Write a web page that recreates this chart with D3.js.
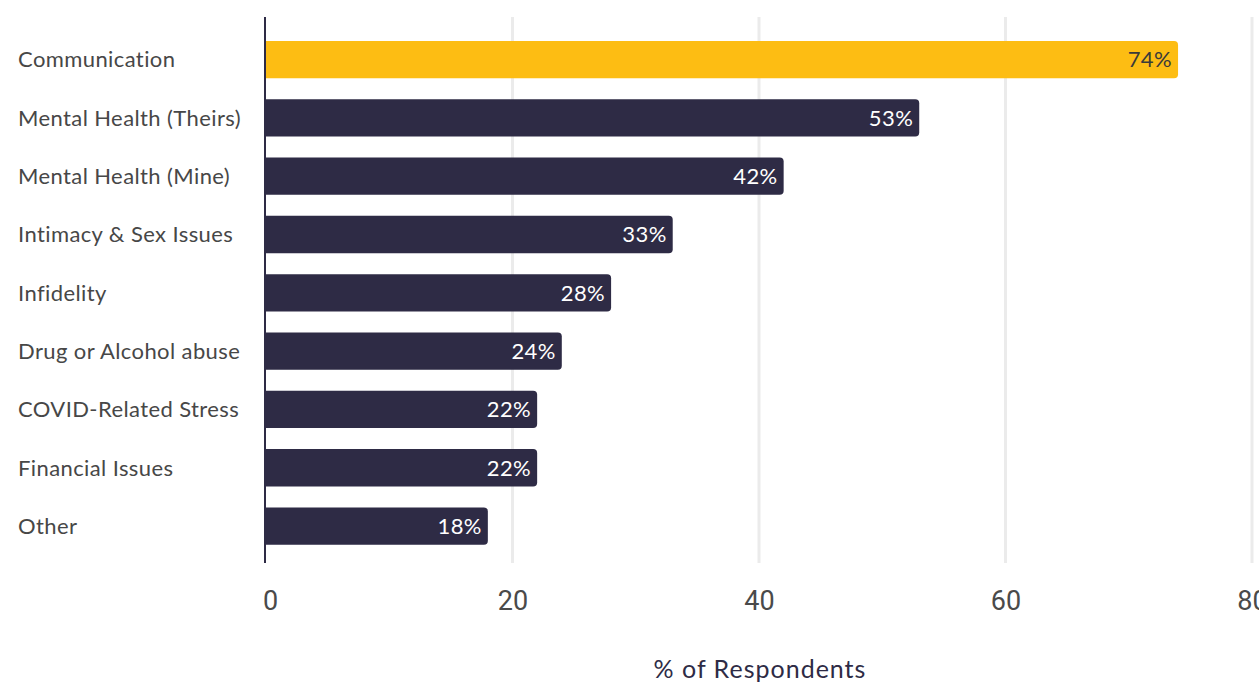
<!DOCTYPE html>
<html>
<head>
<meta charset="utf-8">
<script src="https://cdn.jsdelivr.net/npm/d3@7"></script>
<style>
  html, body { margin: 0; padding: 0; background: #fff; }
  svg { display: block; }
</style>
</head>
<body>
<svg id="chart" width="1259" height="683"></svg>
<script>
// Reasons couples sought therapy, share of respondents
const categories = [
  "Communication",
  "Mental Health (Theirs)",
  "Mental Health (Mine)",
  "Intimacy & Sex Issues",
  "Infidelity",
  "Drug or Alcohol abuse",
  "COVID-Related Stress",
  "Financial Issues",
  "Other"
];
const values = [74, 53, 42, 33, 28, 24, 22, 22, 18];
const tickValues = [0, 20, 40, 60, 80];
const axisTitle = "% of Respondents";

const plot = { left: 266, right: 1252, top: 17, bottom: 563 };
const labelFont = "Lato, 'Noto Sans', sans-serif";

const svg = d3.select("#chart");

const x = d3.scaleLinear().domain([0, 80]).range([plot.left, plot.right]);
const y = d3.scaleBand()
  .domain(categories)
  .range([30.4, 555.2])
  .paddingInner(0.36)
  .paddingOuter(0.18);

// vertical gridlines
svg.append("g")
  .selectAll("line")
  .data(tickValues.filter(d => d > 0))
  .join("line")
  .attr("x1", d => x(d)).attr("x2", d => x(d))
  .attr("y1", plot.top).attr("y2", plot.bottom)
  .attr("stroke", "#ebebeb")
  .attr("stroke-width", 3);

// bars with rounded right end
const r = 4;
function barPath(x0, x1, y0, h) {
  return `M${x0},${y0}H${x1 - r}Q${x1},${y0} ${x1},${y0 + r}V${y0 + h - r}Q${x1},${y0 + h} ${x1 - r},${y0 + h}H${x0}Z`;
}
const rows = categories.map((c, i) => ({ c, v: values[i], i }));

svg.append("g")
  .selectAll("path")
  .data(rows)
  .join("path")
  .attr("d", d => barPath(x(0), x(d.v), y(d.c), y.bandwidth()))
  .attr("fill", d => d.i === 0 ? "#fdbd13" : "#2e2b45");

// value labels inside bars
svg.append("g")
  .selectAll("text")
  .data(rows)
  .join("text")
  .attr("x", d => x(d.v) - 6)
  .attr("y", d => y(d.c) + y.bandwidth() / 2)
  .attr("dy", "0.36em")
  .attr("text-anchor", "end")
  .attr("font-family", labelFont)
  .attr("font-size", 22)
  .attr("letter-spacing", 0.4)
  .attr("fill", d => d.i === 0 ? "#3a3a3a" : "#ffffff")
  .text(d => d.v + "%");

// category labels
svg.append("g")
  .selectAll("text")
  .data(rows)
  .join("text")
  .attr("x", 18)
  .attr("y", d => y(d.c) + y.bandwidth() / 2)
  .attr("dy", "0.36em")
  .attr("font-family", labelFont)
  .attr("font-size", 22)
  .attr("letter-spacing", 0.4)
  .attr("fill", "#474747")
  .text(d => d.c);

// baseline
svg.append("line")
  .attr("x1", plot.left - 1).attr("x2", plot.left - 1)
  .attr("y1", plot.top).attr("y2", plot.bottom)
  .attr("stroke", "#2e2b45")
  .attr("stroke-width", 2);

// x axis ticks
const xAxis = d3.axisBottom(x).tickValues(tickValues).tickSize(0).tickPadding(0);
const gx = svg.append("g")
  .attr("transform", `translate(0, 591)`)
  .call(xAxis);
gx.select(".domain").remove();
gx.selectAll("text")
  .attr("font-family", "Roboto, 'Noto Sans', sans-serif")
  .attr("font-size", 27)
  .attr("fill", "#4a4a4a")
  .attr("dy", "0.71em");
gx.selectAll(".tick").filter(d => d === 0).select("text").attr("dx", 4);

// axis title
svg.append("text")
  .attr("x", 760)
  .attr("y", 669)
  .attr("dy", "0.36em")
  .attr("text-anchor", "middle")
  .attr("font-family", labelFont)
  .attr("font-size", 25)
  .attr("letter-spacing", 1)
  .attr("fill", "#2e2b45")
  .text(axisTitle);
</script>
</body>
</html>
